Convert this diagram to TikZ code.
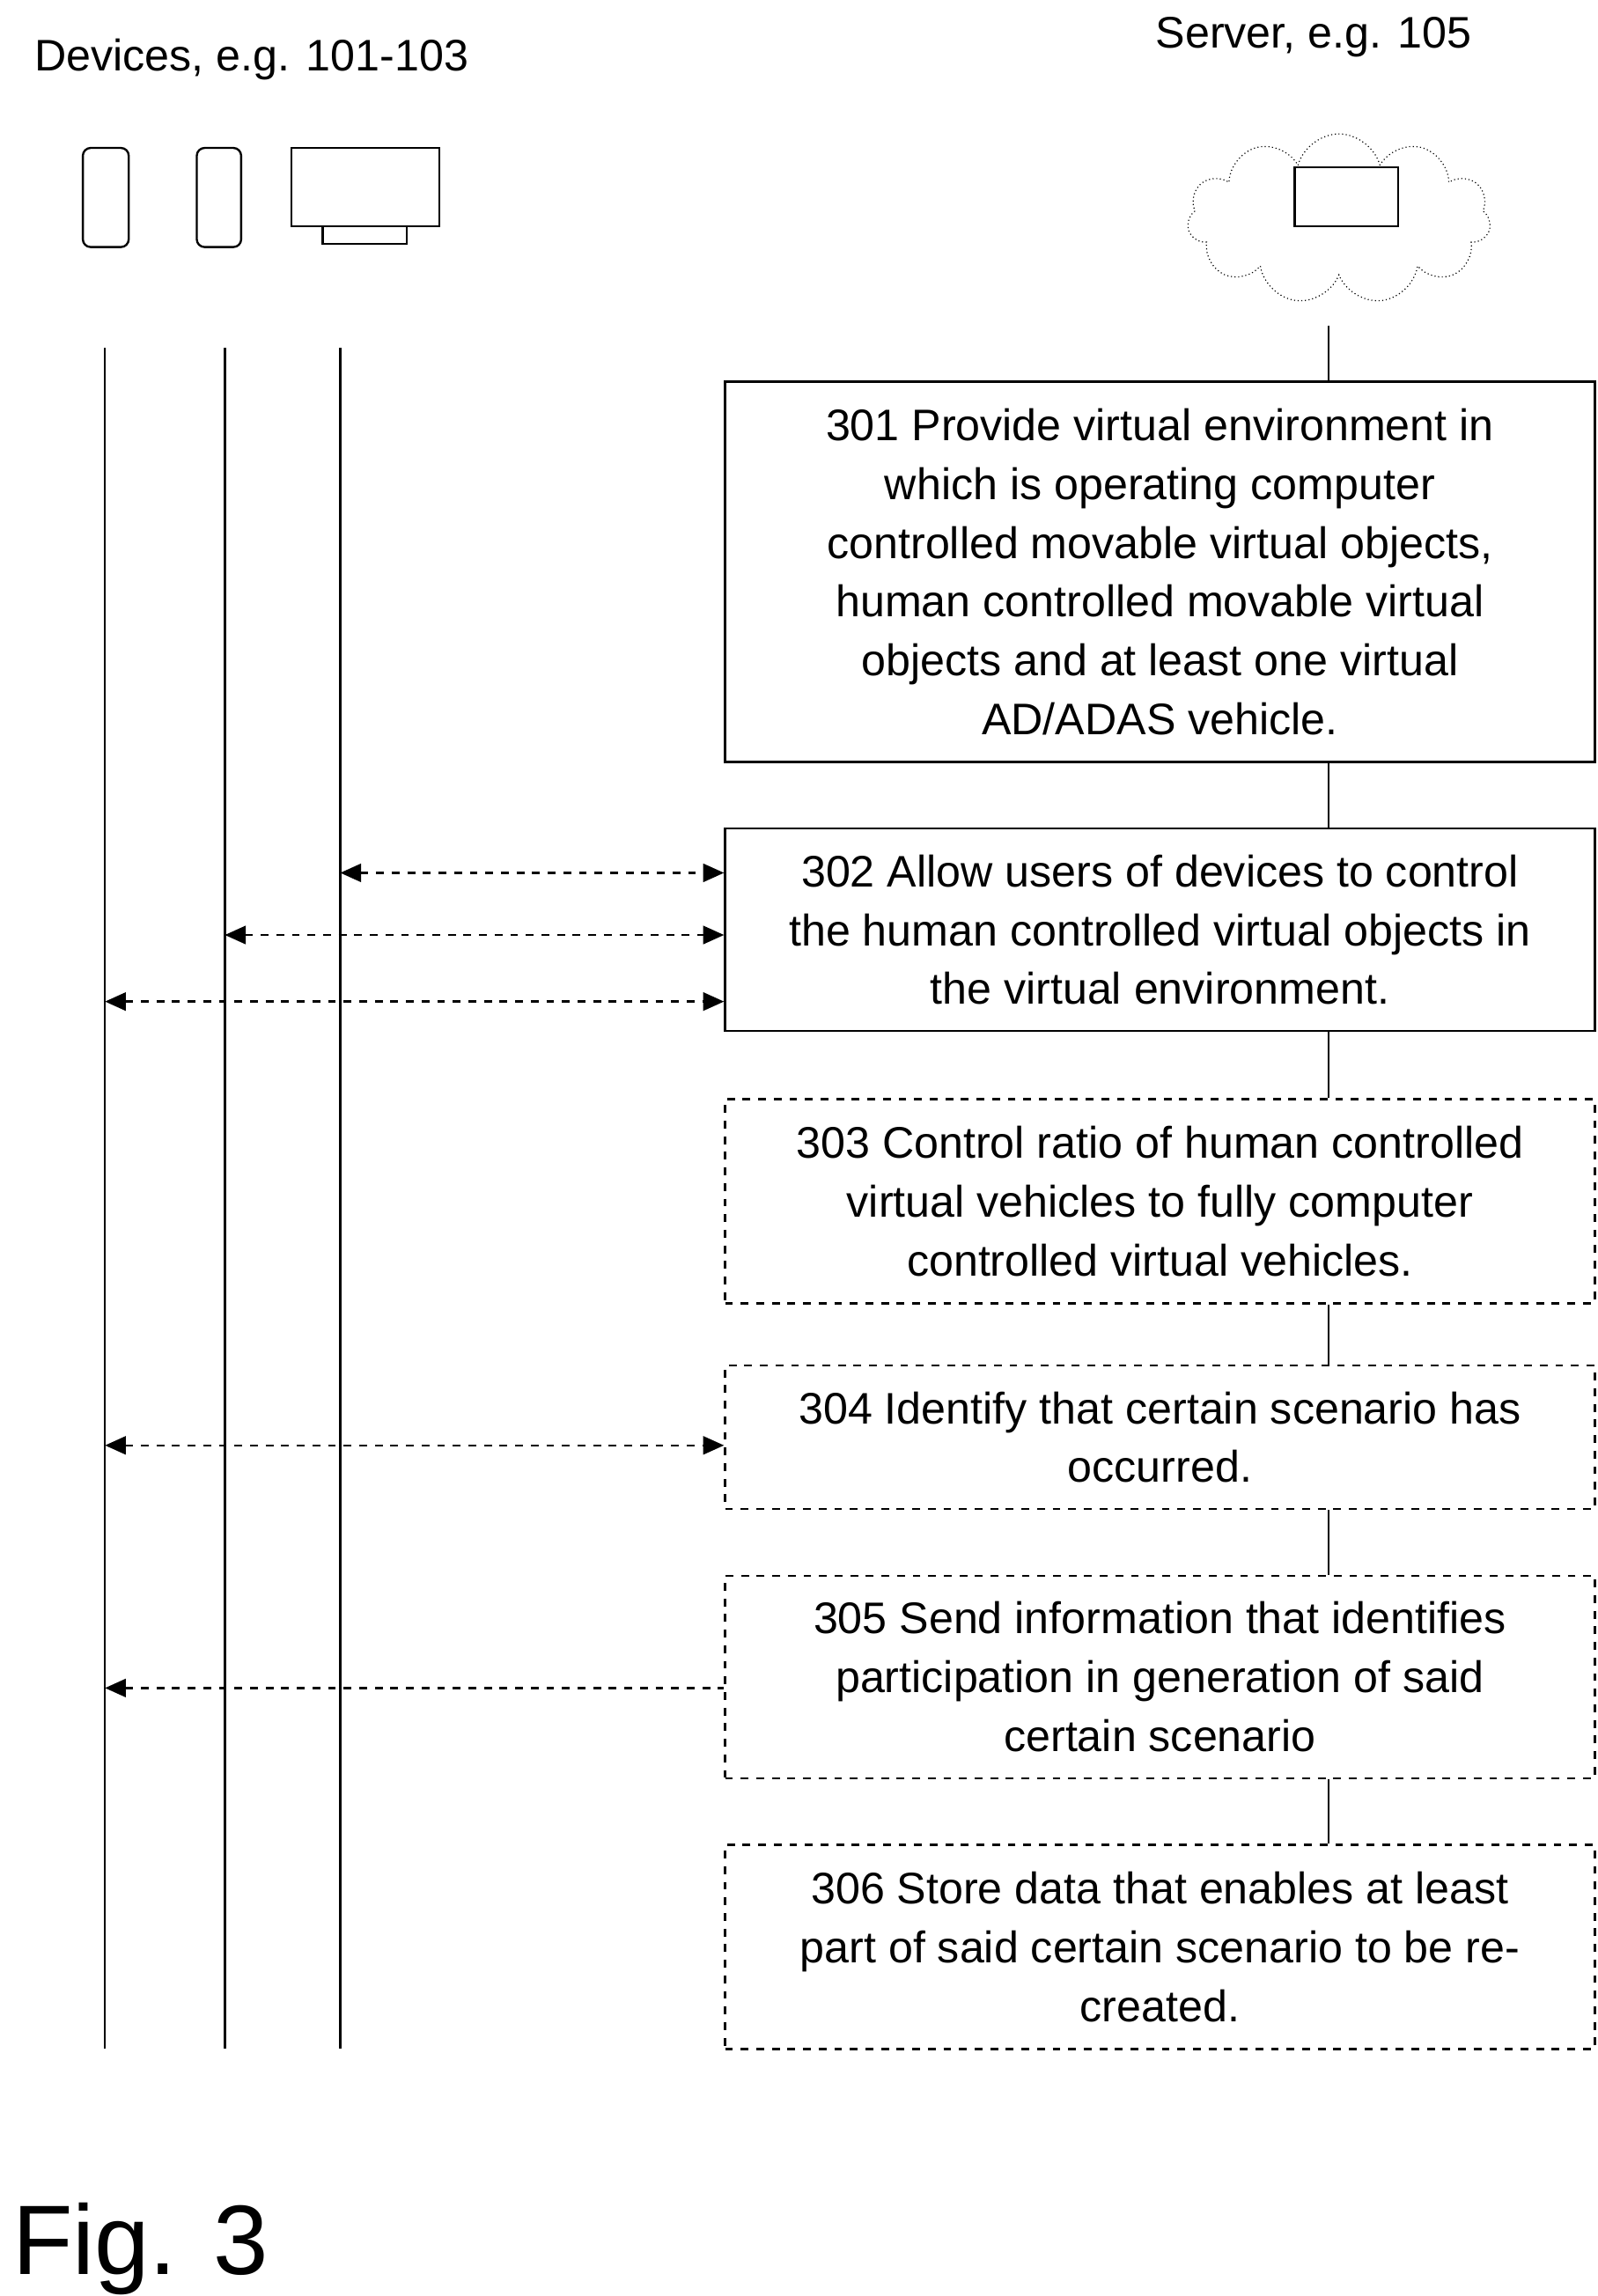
\documentclass[tikz,border=0pt]{standalone}
\usepackage{fontspec}
\setmainfont{Liberation Sans}
\usetikzlibrary{arrows.meta,shapes.symbols}
\tikzstyle{stepbox}=[draw,thick,minimum width=11.76cm,align=center,inner sep=0pt,font=\fontsize{17}{22.6}\selectfont]
\tikzstyle{optbox}=[stepbox,dashed]
\tikzstyle{life}=[draw,thick]
\tikzstyle{msg}=[draw,thick,dashed,{Triangle[length=8pt,width=7pt]}-{Triangle[length=8pt,width=7pt]}]
\tikzstyle{msgl}=[draw,thick,dashed,{Triangle[length=8pt,width=7pt]}-]

\begin{document}
\begin{tikzpicture}[x=0.02cm,y=-0.02cm]
        \useasboundingbox (0,0) rectangle (1080,1552);
        % headings
        \node[font=\fontsize{17}{20}\selectfont] (devt) at (170,40) {Devices, e.g. 101-103};
        \node[font=\fontsize{17}{20}\selectfont] (srvt) at (888,25) {Server, e.g. 105};
        \node[font=\fontsize{38}{40}\selectfont] (fig) at (95,1520) {Fig. 3};

        % devices
        \draw[thick,rounded corners=3pt] (56,100) rectangle (87,167);
        \draw[thick,rounded corners=3pt] (133,100) rectangle (163,167);
        \draw[thick] (197,100) rectangle (297,153);
        \draw[thick] (218,153) rectangle (275,165);
        \node[cloud,draw,densely dotted,cloud puffs=11,minimum width=4.1cm,minimum height=2.3cm] (cloud) at (905,148) {};
        \draw[thick] (875,113) rectangle (945,153);

        % lifelines
        \coordinate (d1) at (71,235);  \coordinate (d1e) at (71,1385);
        \coordinate (d2) at (152,235); \coordinate (d2e) at (152,1385);
        \coordinate (d3) at (230,235); \coordinate (d3e) at (230,1385);
        \draw[life] (d1) to (d1e);
        \draw[life] (d2) to (d2e);
        \draw[life] (d3) to (d3e);

        % steps
        \node[stepbox,minimum height=5.14cm] (s301) at (784,386.5) {301 Provide virtual environment in\\which is operating computer\\controlled movable virtual objects,\\human controlled movable virtual\\objects and at least one virtual\\AD/ADAS vehicle.};
        \node[stepbox,minimum height=2.74cm] (s302) at (784,628.5) {302 Allow users of devices to control\\the human controlled virtual objects in\\the virtual environment.};
        \node[optbox,minimum height=2.76cm] (s303) at (784,812) {303 Control ratio of human controlled\\virtual vehicles to fully computer\\controlled virtual vehicles.};
        \node[optbox,minimum height=1.94cm] (s304) at (784,971.5) {304 Identify that certain scenario has\\occurred.};
        \node[optbox,minimum height=2.74cm] (s305) at (784,1133.5) {305 Send information that identifies\\participation in generation of said\\certain scenario};
        \node[optbox,minimum height=2.76cm] (s306) at (784,1316) {306 Store data that enables at least\\part of said certain scenario to be re-\\created.};

        \coordinate (sv) at (898,220);
        \draw[life] (sv) to (sv |- s301.north);
        \draw[life] (sv |- s301.south) to (sv |- s302.north);
        \draw[life] (sv |- s302.south) to (sv |- s303.north);
        \draw[life] (sv |- s303.south) to (sv |- s304.north);
        \draw[life] (sv |- s304.south) to (sv |- s305.north);
        \draw[life] (sv |- s305.south) to (sv |- s306.north);

        % messages
        \coordinate (m1) at (230,590); \coordinate (m2) at (152,632); \coordinate (m3) at (71,677);
        \coordinate (m4) at (71,977);  \coordinate (m5) at (71,1141);
        \draw[msg] (m1) to (m1 -| s302.west);
        \draw[msg] (m2) to (m2 -| s302.west);
        \draw[msg] (m3) to (m3 -| s302.west);
        \draw[msg] (m4) to (m4 -| s304.west);
        \draw[msgl] (m5) to (m5 -| s305.west);
\end{tikzpicture}
\end{document}
